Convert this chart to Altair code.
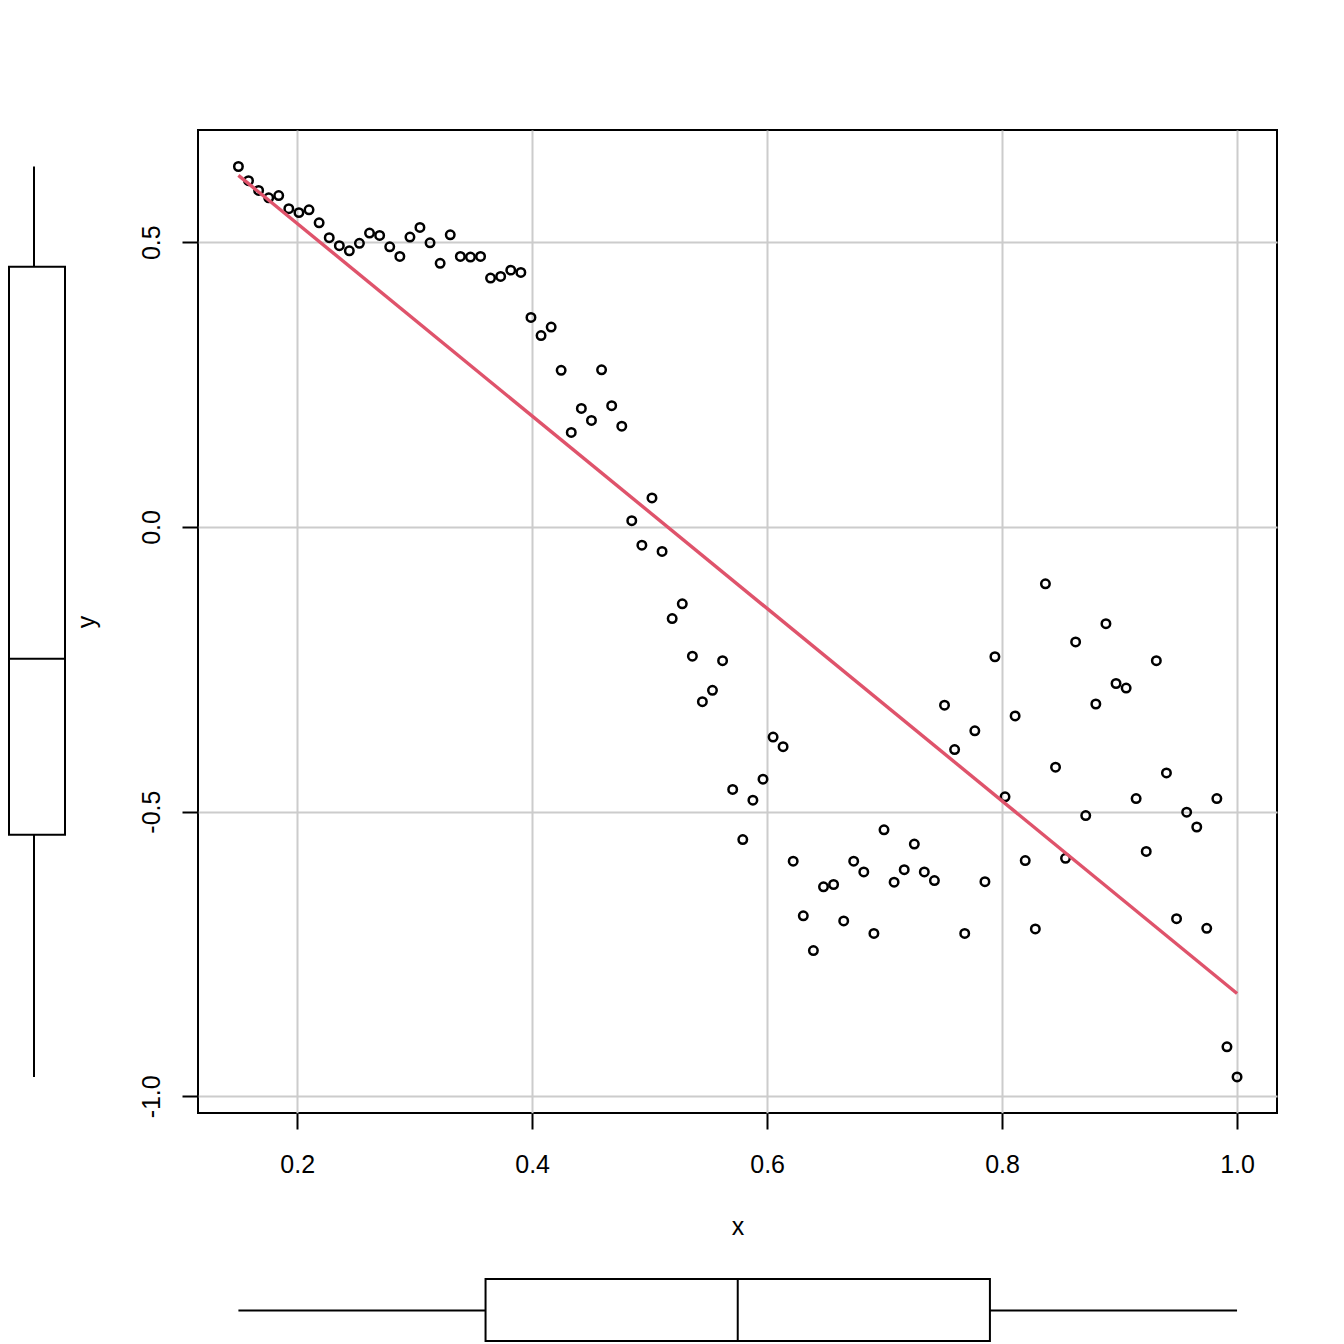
import math
import altair as alt
import pandas as pd

# ---- data ----
x_vals = [0.15, 0.1586, 0.1672, 0.1758, 0.1843, 0.1929, 0.2015, 0.2101, 0.2187, 0.2273,
          0.2359, 0.2444, 0.2530, 0.2616, 0.2702, 0.2788, 0.2874, 0.2960, 0.3045, 0.3131,
          0.3217, 0.3303, 0.3389, 0.3475, 0.3561, 0.3646, 0.3732, 0.3818, 0.3904, 0.3990,
          0.4076, 0.4162, 0.4247, 0.4333, 0.4419, 0.4505, 0.4591, 0.4677, 0.4763, 0.4848,
          0.4934, 0.5020, 0.5106, 0.5192, 0.5278, 0.5364, 0.5449, 0.5535, 0.5621, 0.5707,
          0.5793, 0.5879, 0.5965, 0.6051, 0.6136, 0.6222, 0.6308, 0.6394, 0.6480, 0.6566,
          0.6652, 0.6737, 0.6823, 0.6909, 0.6995, 0.7081, 0.7167, 0.7253, 0.7338, 0.7424,
          0.7510, 0.7596, 0.7682, 0.7768, 0.7854, 0.7939, 0.8025, 0.8111, 0.8197, 0.8283,
          0.8369, 0.8455, 0.8540, 0.8626, 0.8712, 0.8798, 0.8884, 0.8970, 0.9056, 0.9141,
          0.9227, 0.9313, 0.9399, 0.9485, 0.9571, 0.9657, 0.9742, 0.9828, 0.9914, 1.0]

y_vals = [0.633, 0.608, 0.591, 0.578, 0.582, 0.559, 0.552, 0.557, 0.534, 0.508,
          0.494, 0.485, 0.498, 0.516, 0.512, 0.492, 0.475, 0.509, 0.526, 0.499,
          0.463, 0.513, 0.475, 0.474, 0.475, 0.437, 0.440, 0.451, 0.447, 0.368,
          0.336, 0.351, 0.275, 0.166, 0.208, 0.187, 0.276, 0.213, 0.177, 0.011,
          -0.032, 0.051, -0.043, -0.161, -0.135, -0.227, -0.307, -0.287, -0.235, -0.461,
          -0.549, -0.480, -0.443, -0.369, -0.386, -0.587, -0.683, -0.744, -0.632, -0.628,
          -0.692, -0.587, -0.606, -0.714, -0.532, -0.624, -0.602, -0.557, -0.606, -0.621,
          -0.313, -0.391, -0.714, -0.358, -0.623, -0.228, -0.474, -0.332, -0.586, -0.706,
          -0.100, -0.422, -0.582, -0.202, -0.507, -0.311, -0.170, -0.275, -0.283, -0.477,
          -0.570, -0.235, -0.432, -0.688, -0.501, -0.527, -0.705, -0.477, -0.913, -0.966]

x_ticks = [0.2, 0.4, 0.6, 0.8, 1.0]
y_ticks = [-1.0, -0.5, 0.0, 0.5]


def box_stats(v):
    """R-style boxplot.stats: Tukey hinges, whiskers to 1.5*IQR."""
    s = sorted(v)
    n = len(s)
    n4 = math.floor((n + 3) / 2) / 2
    d = [1, n4, (n + 1) / 2, n + 1 - n4, n]
    f = [0.5 * (s[math.floor(k) - 1] + s[math.ceil(k) - 1]) for k in d]
    iqr = f[3] - f[1]
    lo = min(a for a in s if a >= f[1] - 1.5 * iqr)
    hi = max(a for a in s if a <= f[3] + 1.5 * iqr)
    return {"lo": lo, "q1": f[1], "med": f[2], "q3": f[3], "hi": hi}


df = pd.DataFrame({"x": x_vals, "y": y_vals})
xstats = pd.DataFrame([box_stats(x_vals)])
ystats = pd.DataFrame([box_stats(y_vals)])

FONT = "Liberation Sans"
W, H = 1079, 983

xs = alt.Scale(domain=[0.1156, 1.034], nice=False, zero=False)
ys = alt.Scale(domain=[-1.0293, 0.6971], nice=False, zero=False)

minus_fix = "replace(format(datum.value, '.1f'), '\u2212', '-')"

x_axis = alt.Axis(values=x_ticks, labelExpr=minus_fix, ticks=True, tickSize=16,
                  tickWidth=2, tickColor="black", tickOpacity=1, domain=False,
                  grid=True, gridColor="#CCCCCC",
                  gridWidth=2, labelFont=FONT, labelFontSize=25, labelColor="black",
                  labelBaseline="alphabetic", labelPadding=43, labelFlush=False,
                  labelOverlap=False, title="x", titleFont=FONT, titleFontSize=25,
                  titleFontWeight="normal", titleColor="black", titleX=W / 2,
                  titleY=121.5, titleAlign="center", titleBaseline="alphabetic")

y_axis = alt.Axis(values=y_ticks, labelExpr=minus_fix, ticks=True, tickSize=16,
                  tickWidth=2, tickColor="black", tickOpacity=1, domain=False,
                  grid=True, gridColor="#CCCCCC",
                  gridWidth=2, labelFont=FONT, labelFontSize=25, labelColor="black",
                  labelAngle=270, labelAlign="center", labelBaseline="alphabetic",
                  labelPadding=23, labelFlush=False, labelOverlap=False,
                  title="y", titleFont=FONT, titleFontSize=25, titleFontWeight="normal",
                  titleColor="black", titleAngle=270, titleX=-104, titleY=H / 2,
                  titleAlign="center", titleBaseline="alphabetic")


def X(field):
    return alt.X(field, type="quantitative", scale=xs, axis=x_axis)


def Y(field):
    return alt.Y(field, type="quantitative", scale=ys, axis=y_axis)


points = alt.Chart(df).mark_point(
    shape="circle", filled=False, color="black", size=72, strokeWidth=2.5, opacity=1
).encode(x=X("x"), y=Y("y"))

fit = alt.Chart(df).transform_regression("x", "y").mark_line(
    color="#DF536B", strokeWidth=3.4
).encode(x=X("x"), y=Y("y"))

# left (y) boxplot
LB0, LB1, LW = -189, -133, -164
l_rect = alt.Chart(ystats).mark_rect(fill="white", fillOpacity=0, stroke="black",
                                     strokeWidth=2).encode(
    x=alt.value(LB0), x2=alt.value(LB1), y=Y("q1"), y2="q3:Q")
l_med = alt.Chart(ystats).mark_rule(color="black", strokeWidth=2).encode(
    x=alt.value(LB0), x2=alt.value(LB1), y=Y("med"))
l_w1 = alt.Chart(ystats).mark_rule(color="black", strokeWidth=2).encode(
    x=alt.value(LW), y=Y("hi"), y2="q3:Q")
l_w2 = alt.Chart(ystats).mark_rule(color="black", strokeWidth=2).encode(
    x=alt.value(LW), y=Y("q1"), y2="lo:Q")

# bottom (x) boxplot
BB0, BB1, BW = 1149, 1211, 1180.5
b_rect = alt.Chart(xstats).mark_rect(fill="white", fillOpacity=0, stroke="black",
                                     strokeWidth=2).encode(
    y=alt.value(BB0), y2=alt.value(BB1), x=X("q1"), x2="q3:Q")
b_med = alt.Chart(xstats).mark_rule(color="black", strokeWidth=2).encode(
    y=alt.value(BB0), y2=alt.value(BB1), x=X("med"))
b_w1 = alt.Chart(xstats).mark_rule(color="black", strokeWidth=2).encode(
    y=alt.value(BW), x=X("lo"), x2="q1:Q")
b_w2 = alt.Chart(xstats).mark_rule(color="black", strokeWidth=2).encode(
    y=alt.value(BW), x=X("q3"), x2="hi:Q")

chart = alt.layer(
    points, fit, l_rect, l_med, l_w1, l_w2, b_rect, b_med, b_w1, b_w2
).properties(
    width=W, height=H,
    autosize=alt.AutoSizeParams(type="none"),
    padding={"left": 190, "top": 122, "right": 31, "bottom": 231},
    background="white",
).configure_view(stroke="black", strokeWidth=2)

chart.save("out.html", embed_options={"renderer": "svg", "actions": False})
